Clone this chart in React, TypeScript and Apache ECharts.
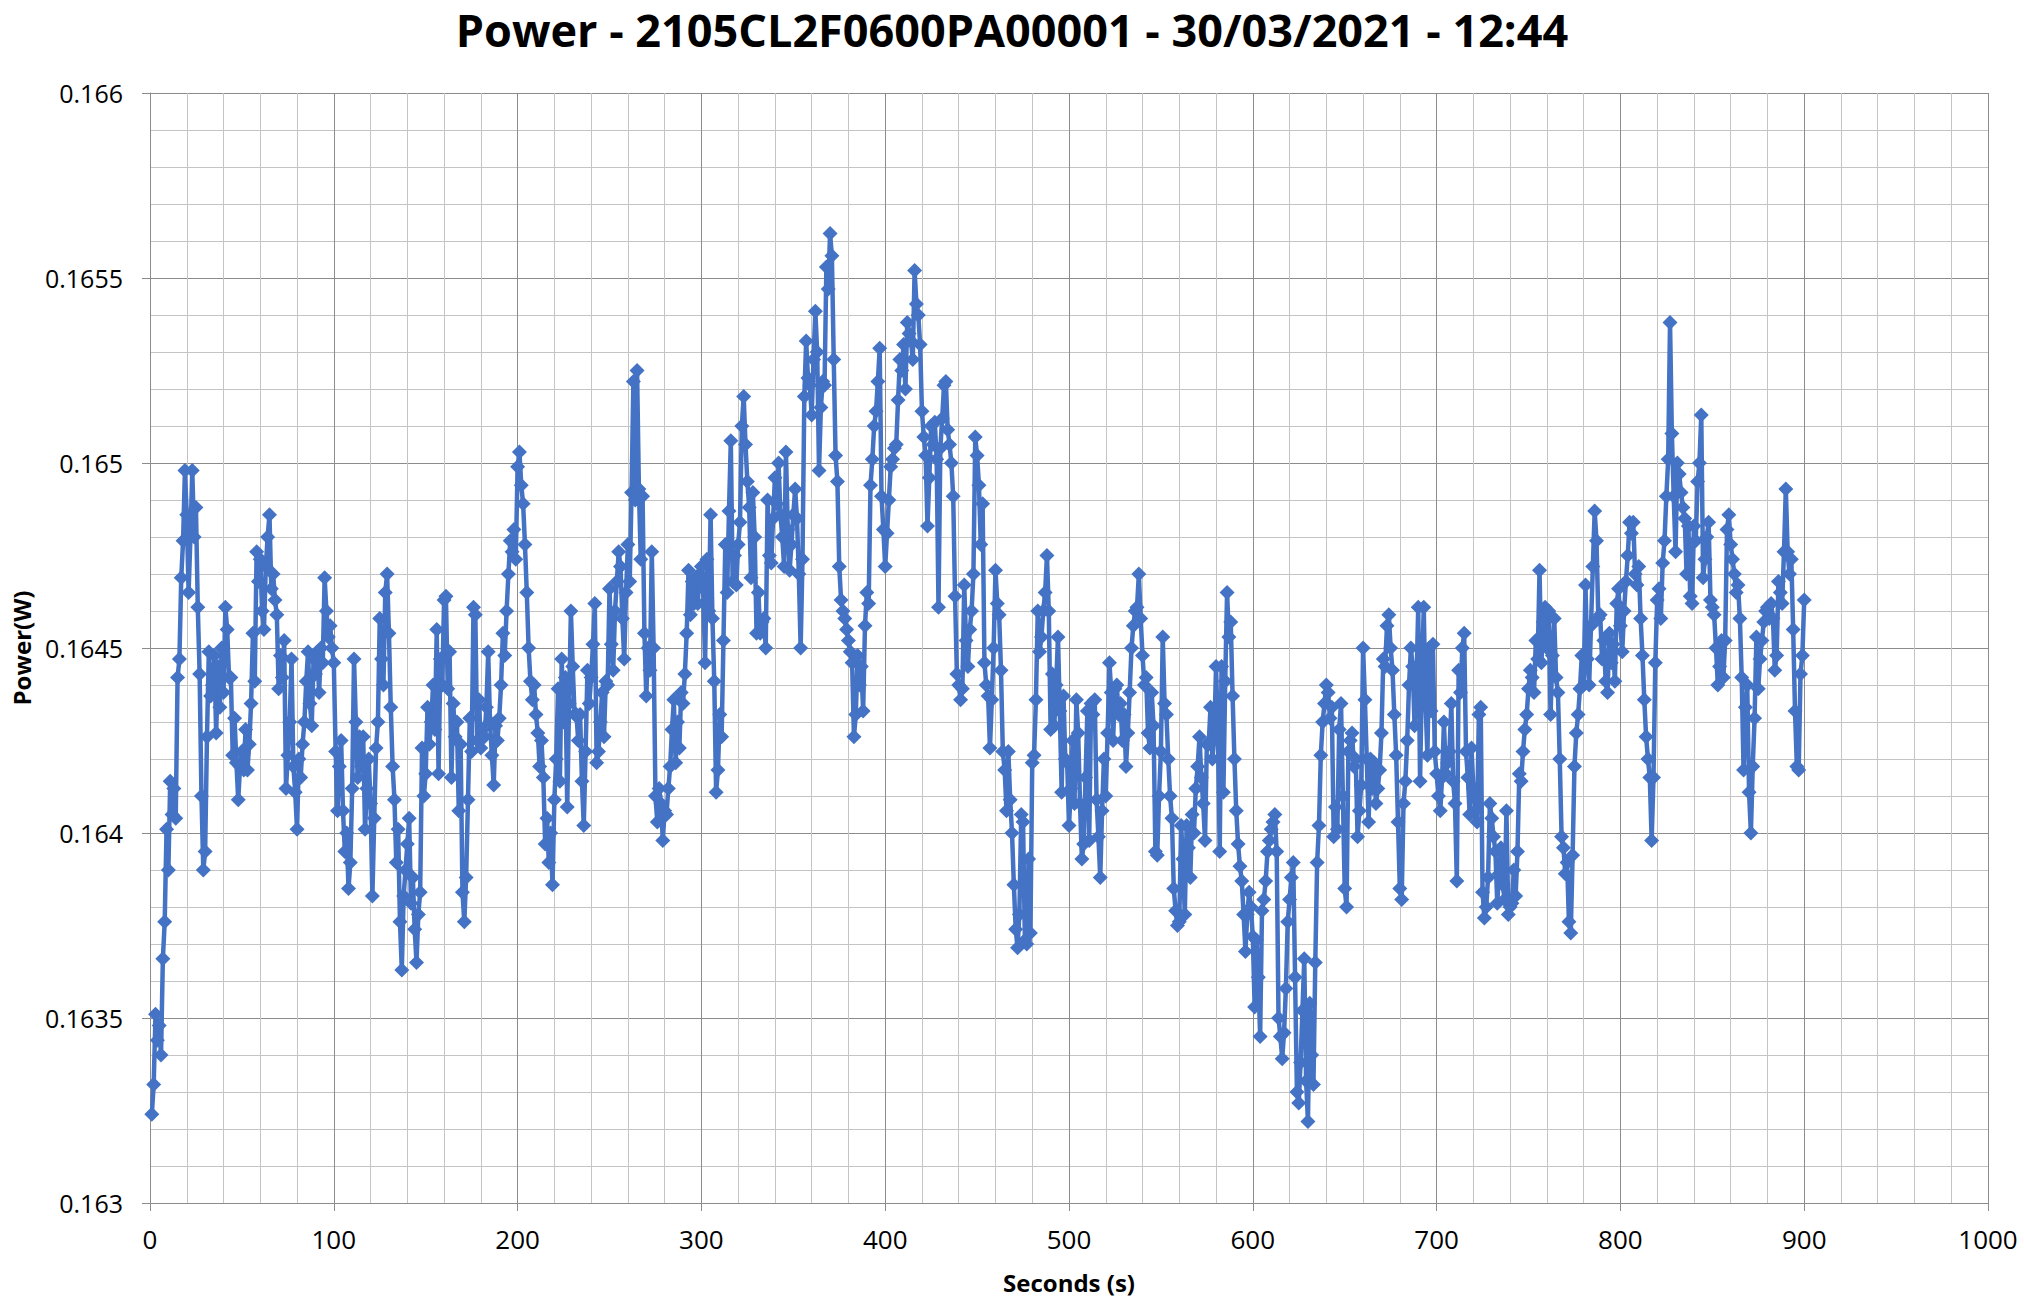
import React, { useEffect, useRef } from "react";
import * as echarts from "echarts";

const TITLE = "Power - 2105CL2F0600PA00001 - 30/03/2021 - 12:44";
const X_NAME = "Seconds (s)";
const Y_NAME = "Power(W)";
const X_MIN = 0;
const X_MAX = 1000;
const X_STEP = 100;
const Y_MIN = 0.163;
const Y_MAX = 0.166;
const Y_STEP = 0.0005;
const FIRST_SECOND = 1;

// One reading per second, starting at FIRST_SECOND (values in W)
const power: number[] = [
  // 1-115
  0.16324, 0.16332, 0.16351, 0.16344, 0.16348, 0.16340, 0.16366, 0.16376, 0.16401, 0.16390,
  0.16414, 0.16405, 0.16412, 0.16404, 0.16442, 0.16447, 0.16469, 0.16479, 0.16498, 0.16486,
  0.16465, 0.16480, 0.16498, 0.16480, 0.16488, 0.16461, 0.16443, 0.16410, 0.16390, 0.16395,
  0.16426, 0.16449, 0.16437, 0.16440, 0.16448, 0.16427, 0.16445, 0.16434, 0.16450, 0.16438,
  0.16461, 0.16455, 0.16442, 0.16442, 0.16421, 0.16431, 0.16419, 0.16409, 0.16418, 0.16422,
  0.16417, 0.16428, 0.16417, 0.16424, 0.16435, 0.16454, 0.16441, 0.16476, 0.16468, 0.16474,
  0.16460, 0.16455, 0.16472, 0.16480, 0.16486, 0.16466, 0.16470, 0.16463, 0.16459, 0.16439,
  0.16448, 0.16442, 0.16452, 0.16412, 0.16421, 0.16430, 0.16447, 0.16418, 0.16411, 0.16401,
  0.16420, 0.16415, 0.16424, 0.16430, 0.16441, 0.16449, 0.16435, 0.16429, 0.16447, 0.16443,
  0.16449, 0.16438, 0.16450, 0.16446, 0.16469, 0.16460, 0.16453, 0.16456, 0.16450, 0.16446,
  0.16422, 0.16406, 0.16418, 0.16425, 0.16406, 0.16395, 0.16400, 0.16385, 0.16392, 0.16412,
  0.16447, 0.16430, 0.16415, 0.16426, 0.16418,
  // 116-231
  0.16426, 0.16401, 0.16412, 0.16420, 0.16408,
  0.16383, 0.16404, 0.16423, 0.16430, 0.16458, 0.16447, 0.16440, 0.16465, 0.16470, 0.16454,
  0.16434, 0.16418, 0.16409, 0.16392, 0.16401, 0.16376, 0.16363, 0.16383, 0.16390, 0.16397,
  0.16404, 0.16381, 0.16388, 0.16374, 0.16365, 0.16378, 0.16384, 0.16423, 0.16410, 0.16416,
  0.16434, 0.16424, 0.16430, 0.16440, 0.16428, 0.16455, 0.16416, 0.16447, 0.16440, 0.16463,
  0.16464, 0.16439, 0.16449, 0.16415, 0.16435, 0.16426, 0.16430, 0.16406, 0.16424, 0.16384,
  0.16376, 0.16388, 0.16409, 0.16431, 0.16422, 0.16461, 0.16459, 0.16425, 0.16436, 0.16423,
  0.16428, 0.16426, 0.16434, 0.16449, 0.16430, 0.16421, 0.16413, 0.16429, 0.16425, 0.16431,
  0.16440, 0.16454, 0.16448, 0.16460, 0.16470, 0.16479, 0.16476, 0.16482, 0.16474, 0.16499,
  0.16503, 0.16494, 0.16489, 0.16478, 0.16465, 0.16450, 0.16441, 0.16436, 0.16440, 0.16432,
  0.16427, 0.16418, 0.16425, 0.16415, 0.16397, 0.16404, 0.16392, 0.16400, 0.16386, 0.16409,
  0.16420, 0.16439, 0.16414, 0.16447, 0.16430, 0.16442, 0.16407, 0.16435, 0.16460, 0.16445,
  0.16432,
  // 232-346
  0.16432, 0.16425, 0.16432, 0.16414, 0.16402, 0.16422, 0.16444, 0.16435, 0.16442,
  0.16451, 0.16462, 0.16419, 0.16422, 0.16430, 0.16438, 0.16426, 0.16441, 0.16440, 0.16466,
  0.16451, 0.16444, 0.16460, 0.16468, 0.16476, 0.16472, 0.16458, 0.16447, 0.16465, 0.16478,
  0.16468, 0.16492, 0.16522, 0.16490, 0.16525, 0.16493, 0.16474, 0.16491, 0.16454, 0.16437,
  0.16450, 0.16444, 0.16476, 0.16450, 0.16410, 0.16403, 0.16412, 0.16408, 0.16398, 0.16406,
  0.16405, 0.16412, 0.16418, 0.16428, 0.16436, 0.16419, 0.16430, 0.16423, 0.16438, 0.16435,
  0.16443, 0.16454, 0.16471, 0.16459, 0.16468, 0.16462, 0.16469, 0.16462, 0.16470, 0.16472,
  0.16466, 0.16446, 0.16474, 0.16460, 0.16486, 0.16458, 0.16441, 0.16411, 0.16417, 0.16432,
  0.16426, 0.16452, 0.16478, 0.16465, 0.16487, 0.16506, 0.16468, 0.16475, 0.16467, 0.16478,
  0.16484, 0.16510, 0.16518, 0.16505, 0.16495, 0.16488, 0.16469, 0.16492, 0.16480, 0.16454,
  0.16465, 0.16454, 0.16457, 0.16458, 0.16450, 0.16490, 0.16475, 0.16473, 0.16485, 0.16496,
  0.16489, 0.16500, 0.16486, 0.16480, 0.16472, 0.16503,
  // 347-461
  0.16482, 0.16471, 0.16478, 0.16486,
  0.16493, 0.16485, 0.16470, 0.16450, 0.16474, 0.16518, 0.16533, 0.16523, 0.16521, 0.16513,
  0.16528, 0.16541, 0.16530, 0.16498, 0.16515, 0.16522, 0.16521, 0.16553, 0.16547, 0.16562,
  0.16556, 0.16528, 0.16502, 0.16495, 0.16472, 0.16463, 0.16460, 0.16458, 0.16455, 0.16452,
  0.16449, 0.16446, 0.16426, 0.16432, 0.16448, 0.16440, 0.16445, 0.16433, 0.16456, 0.16465,
  0.16462, 0.16494, 0.16501, 0.16510, 0.16514, 0.16522, 0.16531, 0.16491, 0.16482, 0.16472,
  0.16481, 0.16490, 0.16499, 0.16501, 0.16504, 0.16505, 0.16517, 0.16528, 0.16525, 0.16532,
  0.16520, 0.16538, 0.16535, 0.16533, 0.16528, 0.16552, 0.16543, 0.16540, 0.16532, 0.16514,
  0.16507, 0.16502, 0.16483, 0.16496, 0.16510, 0.16505, 0.16511, 0.16501, 0.16461, 0.16504,
  0.16512, 0.16521, 0.16522, 0.16509, 0.16505, 0.16500, 0.16491, 0.16464, 0.16443, 0.16440,
  0.16436, 0.16439, 0.16467, 0.16452, 0.16445, 0.16455, 0.16460, 0.16470, 0.16507, 0.16502,
  0.16494, 0.16478, 0.16489, 0.16446, 0.16440, 0.16437, 0.16423, 0.16436, 0.16450, 0.16471,
  0.16462,
  // 462-575
  0.16459, 0.16444, 0.16422, 0.16417, 0.16406, 0.16422, 0.16409, 0.16400, 0.16386,
  0.16374, 0.16369, 0.16378, 0.16405, 0.16403, 0.16371, 0.16370, 0.16393, 0.16373, 0.16419,
  0.16421, 0.16436, 0.16460, 0.16449, 0.16453, 0.16460, 0.16465, 0.16475, 0.16460, 0.16428,
  0.16443, 0.16429, 0.16440, 0.16453, 0.16433, 0.16411, 0.16437, 0.16420, 0.16419, 0.16402,
  0.16412, 0.16425, 0.16408, 0.16436, 0.16427, 0.16408, 0.16393, 0.16397, 0.16415, 0.16433,
  0.16398, 0.16435, 0.16432, 0.16436, 0.16409, 0.16399, 0.16388, 0.16406, 0.16420, 0.16410,
  0.16427, 0.16446, 0.16438, 0.16425, 0.16439, 0.16440, 0.16432, 0.16435, 0.16425, 0.16432,
  0.16418, 0.16427, 0.16438, 0.16450, 0.16456, 0.16460, 0.16461, 0.16470, 0.16458, 0.16448,
  0.16440, 0.16442, 0.16427, 0.16423, 0.16438, 0.16429, 0.16395, 0.16394, 0.16410, 0.16422,
  0.16453, 0.16435, 0.16432, 0.16420, 0.16410, 0.16404, 0.16385, 0.16379, 0.16375, 0.16376,
  0.16402, 0.16393, 0.16378, 0.16402, 0.16396, 0.16388, 0.16405, 0.16400, 0.16412, 0.16418,
  0.16426, 0.16415, 0.16408, 0.16398, 0.16424,
  // 576-690
  0.16424, 0.16434, 0.16420, 0.16426, 0.16445,
  0.16427, 0.16395, 0.16445, 0.16411, 0.16441, 0.16465, 0.16453, 0.16457, 0.16437, 0.16420,
  0.16406, 0.16397, 0.16391, 0.16387, 0.16378, 0.16368, 0.16378, 0.16384, 0.16380, 0.16372,
  0.16353, 0.16371, 0.16361, 0.16345, 0.16379, 0.16382, 0.16387, 0.16395, 0.16398, 0.16401,
  0.16403, 0.16405, 0.16395, 0.16350, 0.16345, 0.16339, 0.16346, 0.16358, 0.16376, 0.16382,
  0.16388, 0.16392, 0.16361, 0.16330, 0.16327, 0.16338, 0.16352, 0.16366, 0.16333, 0.16322,
  0.16354, 0.16340, 0.16332, 0.16365, 0.16392, 0.16402, 0.16421, 0.16430, 0.16435, 0.16440,
  0.16438, 0.16431, 0.16434, 0.16399, 0.16407, 0.16401, 0.16428, 0.16435, 0.16410, 0.16385,
  0.16380, 0.16422, 0.16425, 0.16427, 0.16418, 0.16420, 0.16399, 0.16406, 0.16413, 0.16450,
  0.16436, 0.16420, 0.16403, 0.16420, 0.16412, 0.16419, 0.16408, 0.16412, 0.16417, 0.16427,
  0.16447, 0.16445, 0.16456, 0.16459, 0.16450, 0.16444, 0.16432, 0.16421, 0.16403, 0.16385,
  0.16382, 0.16408, 0.16414, 0.16425, 0.16440, 0.16450, 0.16445, 0.16429, 0.16440, 0.16461,
  // 691-805
  0.16414, 0.16442, 0.16461, 0.16435, 0.16421, 0.16450, 0.16433, 0.16451, 0.16422, 0.16416,
  0.16410, 0.16406, 0.16415, 0.16430, 0.16416, 0.16419, 0.16422, 0.16435, 0.16414, 0.16408,
  0.16387, 0.16444, 0.16438, 0.16450, 0.16454, 0.16422, 0.16415, 0.16405, 0.16423, 0.16412,
  0.16406, 0.16403, 0.16432, 0.16434, 0.16384, 0.16377, 0.16380, 0.16388, 0.16408, 0.16404,
  0.16399, 0.16395, 0.16381, 0.16389, 0.16396, 0.16386, 0.16382, 0.16406, 0.16378, 0.16380,
  0.16381, 0.16390, 0.16383, 0.16395, 0.16416, 0.16414, 0.16422, 0.16428, 0.16432, 0.16439,
  0.16444, 0.16442, 0.16438, 0.16452, 0.16447, 0.16471, 0.16446, 0.16457, 0.16461, 0.16450,
  0.16460, 0.16432, 0.16448, 0.16458, 0.16442, 0.16438, 0.16420, 0.16399, 0.16396, 0.16389,
  0.16392, 0.16376, 0.16373, 0.16394, 0.16418, 0.16427, 0.16432, 0.16439, 0.16448, 0.16440,
  0.16467, 0.16447, 0.16440, 0.16456, 0.16472, 0.16487, 0.16479, 0.16458, 0.16459, 0.16447,
  0.16452, 0.16441, 0.16438, 0.16454, 0.16446, 0.16451, 0.16441, 0.16462, 0.16466, 0.16456,
  0.16449, 0.16460, 0.16468, 0.16475, 0.16484,
  // 806-900
  0.16481, 0.16484, 0.16470, 0.16467, 0.16472,
  0.16458, 0.16448, 0.16436, 0.16426, 0.16420, 0.16415, 0.16398, 0.16415, 0.16446, 0.16463,
  0.16466, 0.16458, 0.16473, 0.16479, 0.16491, 0.16501, 0.16538, 0.16508, 0.16491, 0.16476,
  0.16500, 0.16497, 0.16492, 0.16488, 0.16485, 0.16470, 0.16483, 0.16464, 0.16462, 0.16483,
  0.16479, 0.16495, 0.16500, 0.16513, 0.16469, 0.16474, 0.16480, 0.16484, 0.16463, 0.16461,
  0.16459, 0.16450, 0.16440, 0.16445, 0.16452, 0.16442, 0.16452, 0.16482, 0.16486, 0.16478,
  0.16474, 0.16470, 0.16465, 0.16467, 0.16458, 0.16442, 0.16417, 0.16434, 0.16440, 0.16411,
  0.16400, 0.16418, 0.16431, 0.16453, 0.16439, 0.16447, 0.16452, 0.16457, 0.16460, 0.16461,
  0.16458, 0.16462, 0.16458, 0.16444, 0.16448, 0.16468, 0.16465, 0.16462, 0.16476, 0.16493,
  0.16476, 0.16470, 0.16474, 0.16455, 0.16433, 0.16418, 0.16417, 0.16443, 0.16448, 0.16463,
];

const FONT = "'Open Sans', 'DejaVu Sans', sans-serif";

export default function App() {
  const ref = useRef<HTMLDivElement>(null);
  useEffect(() => {
    const chart = echarts.init(ref.current as HTMLDivElement, null, { renderer: "svg" });
    const data = power.map((v, i) => [FIRST_SECOND + i, v]);
    chart.setOption({
      animation: false,
      backgroundColor: "#ffffff",
      title: {
        text: TITLE,
        left: "center",
        top: 2,
        textStyle: { fontFamily: FONT, fontSize: 45, fontWeight: "bold", color: "#000000" },
      },
      grid: { left: 150, right: 36, top: 93, bottom: 101, containLabel: false },
      xAxis: {
        type: "value",
        min: X_MIN,
        max: X_MAX,
        interval: X_STEP,
        name: X_NAME,
        nameLocation: "middle",
        nameGap: 67,
        nameTextStyle: { fontFamily: FONT, fontSize: 24, fontWeight: "bold", color: "#000000" },
        axisLine: { show: true, onZero: false, lineStyle: { color: "#8c8c8c", width: 1 } },
        axisTick: { show: true, length: 8, lineStyle: { color: "#8c8c8c" } },
        axisLabel: {
          margin: 23,
          fontFamily: FONT,
          fontSize: 26,
          color: "#000000",
          formatter: (v: number) => String(v),
        },
        splitLine: { show: true, lineStyle: { color: "#8c8c8c", width: 1 } },
        minorTick: { show: false, splitNumber: 5 },
        minorSplitLine: { show: true, lineStyle: { color: "#c4c4c4", width: 1 } },
      },
      yAxis: {
        type: "value",
        min: Y_MIN,
        max: Y_MAX,
        interval: Y_STEP,
        name: Y_NAME,
        nameLocation: "middle",
        nameGap: 117,
        nameTextStyle: { fontFamily: FONT, fontSize: 24, fontWeight: "bold", color: "#000000" },
        axisLine: { show: true, lineStyle: { color: "#8c8c8c", width: 1 } },
        axisTick: { show: true, length: 8, lineStyle: { color: "#8c8c8c" } },
        axisLabel: {
          margin: 27,
          fontFamily: FONT,
          fontSize: 25,
          color: "#000000",
          formatter: (v: number) => String(Number(v.toFixed(4))),
        },
        splitLine: { show: true, lineStyle: { color: "#8c8c8c", width: 1 } },
        minorTick: { show: false, splitNumber: 5 },
        minorSplitLine: { show: true, lineStyle: { color: "#c4c4c4", width: 1 } },
      },
      series: [
        {
          type: "line",
          data,
          symbol: "diamond",
          symbolSize: 15,
          showAllSymbol: true,
          lineStyle: { color: "#4472C4", width: 4.5 },
          itemStyle: { color: "#4472C4", borderWidth: 0 },
          emphasis: { disabled: true },
        },
      ],
    });
    return () => chart.dispose();
  }, []);
  return (
    <div
      ref={ref}
      style={{ position: "fixed", left: 0, top: 0, width: 2024, height: 1304, background: "#ffffff" }}
    />
  );
}
